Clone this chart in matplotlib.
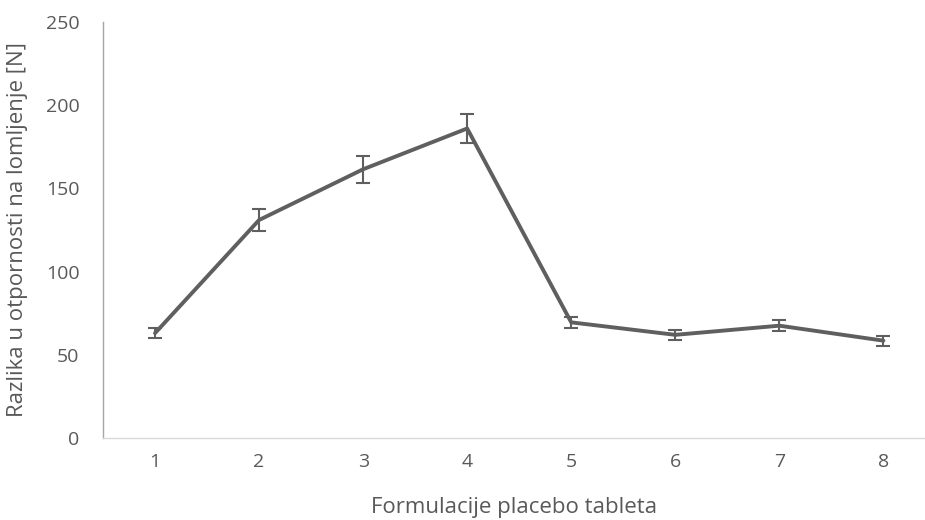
import matplotlib
matplotlib.use("Agg")
import matplotlib.pyplot as plt

categories = [1, 2, 3, 4, 5, 6, 7, 8]
values = [63, 131, 161.5, 186, 69.5, 62, 67.5, 58.5]
errors = [3, 6.5, 8, 9, 3.5, 3, 3.3, 3]
yticks = [0, 50, 100, 150, 200, 250]

plt.rcParams['font.family'] = ['Open Sans', 'DejaVu Sans']

W, H = 925, 520
fig = plt.figure(figsize=(W / 100, H / 100), dpi=100)
x0, y0, y1 = 103, 438, 22
ax = fig.add_axes([x0 / W, (H - y0) / H, 1 - x0 / W, (y0 - y1) / H])

line_col = '#5f5f5f'
ax.errorbar(categories, values, yerr=errors, color=line_col, lw=2.8,
            ecolor=line_col, elinewidth=1.5, capsize=5, capthick=1.5,
            solid_capstyle='round', solid_joinstyle='round')

ax.set_xlim(0.5, 8.40)
ax.set_ylim(0, 250)
ax.set_yticks(yticks)
ax.set_xticks(categories)
ax.set_xticklabels([str(c) for c in categories])

for s in ['top', 'right']:
    ax.spines[s].set_visible(False)
ax.spines['left'].set_color('#a6a6a6')
ax.spines['left'].set_linewidth(1.0)
ax.spines['bottom'].set_color('#d9d9d9')
ax.spines['bottom'].set_linewidth(1.0)

ax.tick_params(axis='both', length=0, labelsize=14, labelcolor='#595959')
ax.tick_params(axis='x', pad=11)
ax.tick_params(axis='y', pad=17)

ax.set_xlabel('Formulacije placebo tableta', fontsize=16, color='#595959')
ax.set_ylabel('Razlika u otpornosti na lomljenje [N]', fontsize=16, color='#595959')
# label positions in axes coords
axw = W - x0
axh = y0 - y1
ax.xaxis.set_label_coords(0.5, -(507 - y0) / axh)
ax.yaxis.set_label_coords(-(x0 - 18) / axw, 0.5)
ax.xaxis.label.set_va('center')
ax.yaxis.label.set_va('center')

fig.savefig('out.png', dpi=100)
